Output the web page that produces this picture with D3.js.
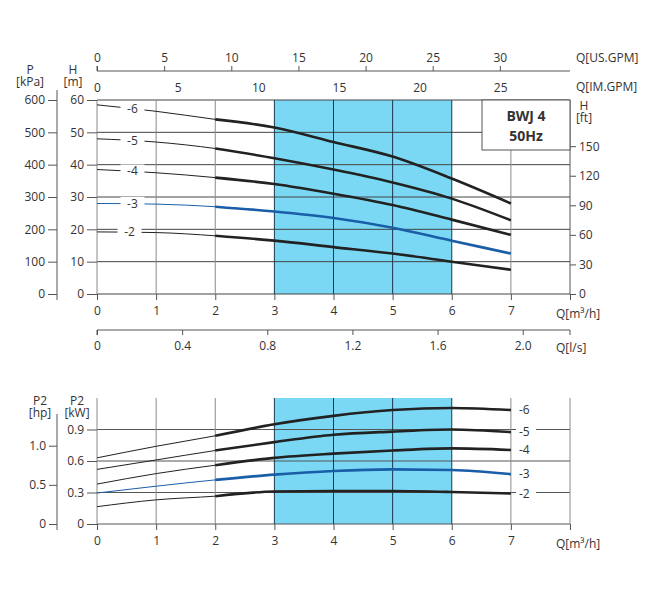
<!DOCTYPE html>
<html><head><meta charset="utf-8">
<script src="https://cdn.jsdelivr.net/npm/d3@7"></script>
<style>body{margin:0;background:#fff}text{font-family:"Open Sans",sans-serif;fill:#333}</style>
</head><body>
<script>
var flowQ = [0, 1, 2, 3, 4, 5, 6, 7];
var stages = ['-6', '-5', '-4', '-3', '-2'];
var headM = [
  [58.5, 56.5, 54, 51.5, 47, 42.5, 35.7, 28],
  [48, 47, 45, 42, 38.5, 34.5, 29.5, 22.8],
  [38.5, 37.5, 36, 34, 31, 27.5, 23, 18.3],
  [28, 27.8, 27, 25.5, 23.5, 20.5, 16.5, 12.5],
  [19.2, 19, 18, 16.5, 14.5, 12.5, 10, 7.5]
];
var powerKW = [
  [0.63, 0.74, 0.84, 0.95, 1.03, 1.085, 1.105, 1.085],
  [0.52, 0.61, 0.70, 0.78, 0.85, 0.88, 0.90, 0.875],
  [0.38, 0.48, 0.56, 0.63, 0.67, 0.70, 0.72, 0.705],
  [0.295, 0.36, 0.42, 0.47, 0.505, 0.52, 0.515, 0.475],
  [0.165, 0.23, 0.265, 0.31, 0.315, 0.314, 0.305, 0.29]
];
var hTicks = [0, 10, 20, 30, 40, 50, 60];
var pTicks = [0, 100, 200, 300, 400, 500, 600];
var ftTicks = [0, 30, 60, 90, 120, 150];
var usTicks = [0, 5, 10, 15, 20, 25, 30];
var imTicks = [0, 5, 10, 15, 20, 25];
var lsTicks = [0, 0.4, 0.8, 1.2, 1.6, 2.0];
var kwTicks = [0, 0.3, 0.6, 0.9];
var hpTicks = [0, 0.5, 1.0];
var workRange = [3, 6];

var svg = d3.select('body').append('svg').attr('width', 650).attr('height', 600);
var x = d3.scaleLinear().domain([0, 8]).range([97, 570]);
var y = d3.scaleLinear().domain([0, 60]).range([294, 100]);
var yk = d3.scaleLinear().domain([0, 1.2]).range([524, 398]);
var sky = '#7ad8f5', grid = '#8a8a8a', ink = '#222', blue = '#1a5ea8';

function fmt(d) { return d === 0 ? '0' : d3.format('.1f')(d); }

// ---- head chart ----
var gTop = svg.append('g');
gTop.append('rect').attr('x', x(workRange[0])).attr('y', y(60))
  .attr('width', x(workRange[1]) - x(workRange[0])).attr('height', y(0) - y(60)).attr('fill', sky);
hTicks.forEach(function (h) {
  gTop.append('line').attr('x1', x(0)).attr('x2', x(8)).attr('y1', y(h)).attr('y2', y(h))
    .attr('stroke', '#444').attr('stroke-width', 1);
});
flowQ.forEach(function (q) {
  gTop.append('line').attr('x1', x(q)).attr('x2', x(q)).attr('y1', y(0)).attr('y2', y(60))
    .attr('stroke', q >= workRange[0] && q <= workRange[1] ? '#1a3a4a' : grid).attr('stroke-width', 1);
});
gTop.append('line').attr('x1', x(8)).attr('x2', x(8)).attr('y1', y(60)).attr('y2', y(0)).attr('stroke', '#555');

var line = d3.line().x(function (d) { return x(d[0]); }).y(function (d) { return y(d[1]); }).curve(d3.curveMonotoneX);
var labelQ = [0.6, 0.6, 0.6, 0.6, 0.55];
headM.forEach(function (s, i) {
  var pts = flowQ.map(function (q, j) { return [q, s[j]]; });
  var c = stages[i] === '-3' ? blue : ink;
  gTop.append('path').attr('d', line(pts)).attr('fill', 'none').attr('stroke', c).attr('stroke-width', 1);
  gTop.append('path').attr('d', line(pts.slice(2))).attr('fill', 'none').attr('stroke', c).attr('stroke-width', 2.6);
  var ly = y(s[0] + (s[1] - s[0]) * labelQ[i]);
  gTop.append('rect').attr('x', x(labelQ[i]) - 12).attr('y', ly - 7).attr('width', 24).attr('height', 14).attr('fill', '#fff');
  gTop.append('text').attr('x', x(labelQ[i])).attr('y', ly + 4).attr('text-anchor', 'middle').attr('font-size', 12).text(stages[i]);
});

// legend box
gTop.append('rect').attr('x', 482).attr('y', 100).attr('width', 88).attr('height', 50)
  .attr('fill', '#fff').attr('stroke', '#555');
gTop.append('text').attr('x', 526).attr('y', 121).attr('text-anchor', 'middle').attr('font-size', 14).attr('font-weight', 'bold').text('BWJ 4');
gTop.append('text').attr('x', 526).attr('y', 141).attr('text-anchor', 'middle').attr('font-size', 14).attr('font-weight', 'bold').text('50Hz');

// left axes
gTop.append('g').attr('transform', 'translate(97,0)')
  .call(d3.axisLeft(y).tickValues(hTicks).tickSize(10).tickPadding(3)).call(function (g) { g.select('.domain').remove(); });
var yp = d3.scaleLinear().domain([0, 600]).range([294, 100]);
gTop.append('g').attr('transform', 'translate(57,0)')
  .call(d3.axisLeft(yp).tickValues(pTicks).tickSize(9).tickPadding(3))
  .call(function (g) { g.select('.domain').attr('d', 'M0,90V300'); });
// right ft axis
var yft = d3.scaleLinear().domain([0, 60 / 0.3048]).range([294, 100]);
gTop.append('g').attr('transform', 'translate(570,0)')
  .call(d3.axisRight(yft).tickValues(ftTicks).tickSize(6).tickPadding(3)).call(function (g) { g.select('.domain').remove(); });
// Q axis
gTop.append('g').attr('transform', 'translate(0,294)')
  .call(d3.axisBottom(x).tickValues(flowQ.concat([8])).tickSize(6).tickPadding(6).tickFormat(function (d) { return d === 8 ? '' : d; }))
  .call(function (g) { g.select('.domain').remove(); });
// l/s axis
var xls = d3.scaleLinear().domain([0, 8 / 3.6]).range([97, 570]);
gTop.append('g').attr('transform', 'translate(0,330)')
  .call(d3.axisBottom(xls).tickValues(lsTicks).tickSize(5).tickPadding(6).tickFormat(fmt))
  .call(function (g) { g.select('.domain').attr('d', 'M97,5V0H570V5'); });
// US GPM axis
var xus = d3.scaleLinear().domain([0, 8 * 4.403]).range([97, 570]);
gTop.append('g').attr('transform', 'translate(0,71)')
  .call(d3.axisTop(xus).tickValues(usTicks).tickSize(5).tickPadding(4))
  .call(function (g) { g.select('.domain').attr('d', 'M97,-5V0H570'); });
// IM GPM labels
var xim = d3.scaleLinear().domain([0, 8 * 3.666]).range([97, 570]);
gTop.append('g').attr('transform', 'translate(0,96)')
  .call(d3.axisTop(xim).tickValues(imTicks).tickSize(0).tickPadding(4))
  .call(function (g) { g.select('.domain').remove(); });

function label(t, xx, yy, anchor) {
  svg.append('text').attr('x', xx).attr('y', yy).attr('text-anchor', anchor || 'start').attr('font-size', 12).text(t);
}
label('P', 30, 74, 'middle'); label('[kPa]', 30, 86, 'middle');
label('H', 73, 74, 'middle'); label('[m]', 73, 86, 'middle');
label('H', 584, 110, 'middle'); label('[ft]', 584, 122, 'middle');
label('Q[US.GPM]', 576, 62); label('Q[IM.GPM]', 576, 91);
label('Q[m³/h]', 556, 318); label('Q[l/s]', 556, 352);

// ---- power chart ----
var gBot = svg.append('g');
gBot.append('rect').attr('x', x(workRange[0])).attr('y', yk(1.2))
  .attr('width', x(workRange[1]) - x(workRange[0])).attr('height', yk(0) - yk(1.2)).attr('fill', sky);
kwTicks.forEach(function (k) {
  gBot.append('line').attr('x1', x(0)).attr('x2', x(8)).attr('y1', yk(k)).attr('y2', yk(k)).attr('stroke', '#555');
});
flowQ.concat([8]).forEach(function (q) {
  gBot.append('line').attr('x1', x(q)).attr('x2', x(q)).attr('y1', yk(0)).attr('y2', yk(1.2))
    .attr('stroke', q >= workRange[0] && q <= workRange[1] ? '#1a3a4a' : grid);
});
var lineK = d3.line().x(function (d) { return x(d[0]); }).y(function (d) { return yk(d[1]); }).curve(d3.curveMonotoneX);
powerKW.forEach(function (s, i) {
  var pts = flowQ.map(function (q, j) { return [q, s[j]]; });
  var c = stages[i] === '-3' ? blue : ink;
  gBot.append('path').attr('d', lineK(pts)).attr('fill', 'none').attr('stroke', c).attr('stroke-width', 1);
  gBot.append('path').attr('d', lineK(pts.slice(2))).attr('fill', 'none').attr('stroke', c).attr('stroke-width', 2.6);
  var ly = yk(s[7]) + 4;
  gBot.append('rect').attr('x', 516).attr('y', ly - 11).attr('width', 20).attr('height', 14).attr('fill', '#fff');
  gBot.append('text').attr('x', 519).attr('y', ly).attr('font-size', 12).text(stages[i]);
});
gBot.append('g').attr('transform', 'translate(97,0)')
  .call(d3.axisLeft(yk).tickValues(kwTicks).tickSize(10).tickPadding(3).tickFormat(fmt))
  .call(function (g) { g.select('.domain').remove(); });
var yhp = d3.scaleLinear().domain([0, 1.2 / 0.7457]).range([524, 398]);
gBot.append('g').attr('transform', 'translate(57,0)')
  .call(d3.axisLeft(yhp).tickValues(hpTicks).tickSize(8).tickPadding(3).tickFormat(fmt))
  .call(function (g) { g.select('.domain').attr('d', 'M0,414V530'); });
gBot.append('g').attr('transform', 'translate(0,524)')
  .call(d3.axisBottom(x).tickValues(flowQ.concat([8])).tickSize(6).tickPadding(6).tickFormat(function (d) { return d === 8 ? '' : d; }))
  .call(function (g) { g.select('.domain').remove(); });
label('P2', 40, 405, 'middle'); label('[hp]', 40, 417, 'middle');
label('P2', 77, 405, 'middle'); label('[kW]', 77, 417, 'middle');
label('Q[m³/h]', 556, 548);

svg.selectAll('.tick text').attr('font-size', 12).attr('fill', '#333');
svg.selectAll('.tick line').attr('stroke', '#555');
svg.selectAll('.domain').attr('stroke', '#555');
</script>
</body></html>
